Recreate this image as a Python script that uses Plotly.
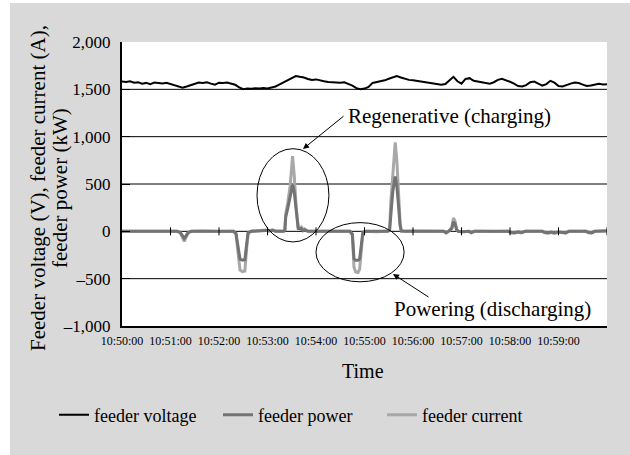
import plotly.graph_objects as go
import pandas as pd

# ---------------- data ----------------
tick_labels = ["10:50:00", "10:51:00", "10:52:00", "10:53:00", "10:54:00",
               "10:55:00", "10:56:00", "10:57:00", "10:58:00", "10:59:00"]
y_ticks = [-1000, -500, 0, 500, 1000, 1500, 2000]
y_tick_text = ["\u20131,000", "\u2013500", "0", "500", "1,000", "1,500", "2,000"]

# feeder voltage, one sample every 5 s from 10:50:00
voltage_step_s = 5
feeder_voltage = [
    1582, 1578, 1585, 1570, 1575, 1560, 1568, 1555, 1572, 1566, 1562, 1570,
    1556, 1540, 1528, 1518, 1530, 1545, 1560, 1572, 1568, 1575, 1560, 1550,
    1570, 1566, 1572, 1560, 1548, 1520, 1502, 1508, 1505, 1512, 1508, 1515,
    1510, 1520, 1530, 1552, 1575, 1600, 1625, 1640, 1632, 1625, 1610, 1600,
    1605, 1592, 1585, 1578, 1575, 1578, 1570, 1575, 1560, 1540, 1512, 1500,
    1508, 1525, 1568, 1575, 1580, 1595, 1612, 1630, 1640, 1625, 1610, 1600,
    1595, 1588, 1582, 1578, 1570, 1560, 1552, 1548, 1556, 1590, 1632, 1585,
    1560, 1610, 1618, 1590, 1582, 1576, 1562, 1560, 1575, 1600, 1612, 1600,
    1580, 1560, 1535, 1530, 1545, 1575, 1582, 1560, 1540, 1555, 1590, 1570,
    1535, 1530, 1548, 1560, 1572, 1566, 1550, 1535, 1540, 1552, 1558, 1550,
    1555,
]

# feeder current / power samples (seconds after 10:50:00)
pulse_time_s = [
    0, 20, 40, 55, 68, 72, 75, 77, 79, 82, 86, 100, 120, 138, 141, 144, 146,
    149, 152, 154, 156, 160, 170, 178, 182, 186, 190, 196, 200, 201.5, 202.5,
    205, 208, 211, 213, 215.5, 218, 220, 222, 224, 226, 230, 250, 270, 282,
    285, 287, 289, 292, 294, 296, 298, 302, 315, 328, 331, 332.5, 335, 338,
    340, 342, 344, 345.5, 350, 360, 380, 398, 401, 404, 408, 410, 412, 414,
    416, 420, 429, 432, 436, 445, 460, 478, 481, 485, 490, 494, 499, 510, 520,
    523, 527, 531, 535, 540, 545, 549, 553, 565, 574, 577, 581, 585, 600,
]
feeder_current = [
    0, 2, -3, 0, 0, -15, -60, -105, -70, -15, 0, 3, -2, 0, -30, -280, -410,
    -425, -420, -200, -20, 0, 5, 15, 5, 15, 3, 0, 0, 20, 180,
    300, 480, 795, 600, 250, 40, 30, 45, 10, 25, 0, 2, -3, 0,
    -40, -380, -430, -435, -400, -150, -15, 0, -5, 0, 10, 300, 620, 940,
    750, 420, 100, 5, 0, 3, -2, 0, -18, 0, 40, 140, 110, 20,
    0, -8, 0, -18, 0, 2, -3, 0, -15, -20, -10, -18, 0, 2, 0,
    -15, -20, -12, -22, -10, -18, -20, 0, 0, 0, -16, -20, 0, 5,
]
feeder_power = [
    0, 0, -2, 0, 0, -10, -45, -75, -50, -10, 0, 2, 0, 0, -20, -200, -295,
    -305, -300, -150, -15, 0, 3, 10, 3, 12, 2, 0, 0, 15, 150,
    240, 350, 490, 420, 180, 30, 25, 30, 8, 15, 0, 0, -2, 0,
    -30, -290, -305, -305, -290, -110, -10, 0, -3, 0, 8, 200, 420, 580,
    480, 280, 60, 3, 0, 2, 0, 0, -12, 0, 30, 100, 80, 15,
    0, -5, 0, -12, 0, 0, -2, 0, -10, -15, -5, -12, 0, 0, 0,
    -10, -14, -8, -15, -6, -12, -14, 0, 0, 0, -10, -14, 0, 3,
]

# ---------------- helpers ----------------
base = pd.Timestamp("2024-01-01 10:50:00")
end = base + pd.Timedelta(minutes=10)
t_volt = [base + pd.Timedelta(seconds=i * voltage_step_s) for i in range(len(feeder_voltage))]
t_pulse = [base + pd.Timedelta(seconds=s) for s in pulse_time_s]
tick_vals = [pd.Timestamp("2024-01-01 " + s) for s in tick_labels]

FONT = "Liberation Serif"
W, H = 630, 455
ML, MR, MT, MB = 122, 23, 42, 129
PW, PH = W - ML - MR, H - MT - MB


def px_x(px):
    return (px - ML) / PW


def px_y(py):
    return (H - MB - py) / PH


def t_at(sec):
    return base + pd.Timedelta(seconds=sec)


fig = go.Figure()

# draw order: current, power, voltage (legend order by rank)
fig.add_trace(go.Scatter(x=t_pulse, y=feeder_current, mode="lines", name="feeder current",
                         line=dict(color="#a8a8a8", width=3), legendrank=3))
fig.add_trace(go.Scatter(x=t_pulse, y=feeder_power, mode="lines", name="feeder power",
                         line=dict(color="#737373", width=3), legendrank=2))
fig.add_trace(go.Scatter(x=t_volt, y=feeder_voltage, mode="lines", name="feeder voltage",
                         line=dict(color="#000000", width=2), legendrank=1))

shapes = []
# white strips at left and top edge of the picture
shapes.append(dict(type="rect", xref="paper", yref="paper", x0=px_x(0), x1=px_x(10),
                   y0=px_y(H), y1=px_y(0), fillcolor="white", line_width=0, layer="below"))
shapes.append(dict(type="rect", xref="paper", yref="paper", x0=px_x(0), x1=px_x(W),
                   y0=px_y(3), y1=px_y(0), fillcolor="white", line_width=0, layer="below"))
# horizontal gridlines (inner ticks only)
for v in y_ticks[1:-1]:
    shapes.append(dict(type="line", xref="paper", yref="y", x0=0, x1=1, y0=v, y1=v,
                       line=dict(color="black", width=1), layer="below"))
# small tick marks on zero line
for tv in tick_vals[1:] + [end]:
    shapes.append(dict(type="line", xref="x", yref="y", x0=tv, x1=tv,
                       ysizemode="pixel", yanchor=0, y0=-4, y1=4,
                       line=dict(color="black", width=1)))
# ellipses
shapes.append(dict(type="circle", xref="x", yref="y", x0=t_at(167), x1=t_at(256),
                   y0=-112, y1=873, line=dict(color="black", width=1)))
shapes.append(dict(type="circle", xref="x", yref="y", x0=t_at(240), x1=t_at(349),
                   y0=-533, y1=92, line=dict(color="black", width=1)))

annotations = [
    dict(text="Feeder voltage (V), feeder current (A),", xref="paper", yref="paper",
         x=px_x(38), y=px_y(188), textangle=-90, showarrow=False,
         xanchor="center", yanchor="middle", font=dict(family=FONT, size=21, color="black")),
    dict(text="feeder power (kW)", xref="paper", yref="paper",
         x=px_x(60), y=px_y(188), textangle=-90, showarrow=False,
         xanchor="center", yanchor="middle", font=dict(family=FONT, size=21, color="black")),
    dict(text="Time", xref="paper", yref="paper", x=px_x(363), y=px_y(371),
         showarrow=False, xanchor="center", yanchor="middle",
         font=dict(family=FONT, size=20, color="black")),
    dict(text="Regenerative (charging)", xref="paper", yref="paper", x=px_x(346), y=px_y(116),
         showarrow=False, xanchor="left", yanchor="middle",
         font=dict(family=FONT, size=21, color="black")),
    dict(text="Powering (discharging)", xref="paper", yref="paper", x=px_x(392), y=px_y(309),
         showarrow=False, xanchor="left", yanchor="middle",
         font=dict(family=FONT, size=21, color="black")),
    dict(text="", xref="paper", yref="paper", x=px_x(303), y=px_y(149), ax=42, ay=-34,
         showarrow=True, arrowhead=2, arrowsize=1.2, arrowwidth=1, arrowcolor="black"),
    dict(text="", xref="paper", yref="paper", x=px_x(393), y=px_y(274), ax=37, ay=24,
         showarrow=True, arrowhead=2, arrowsize=1.2, arrowwidth=1, arrowcolor="black"),
]

fig.update_layout(
    width=W, height=H,
    margin=dict(l=ML, r=MR, t=MT, b=MB, pad=0),
    paper_bgcolor="#d9d9d9", plot_bgcolor="white",
    font=dict(family=FONT, color="black"),
    showlegend=True,
    legend=dict(orientation="h", x=px_x(54), y=px_y(415), xanchor="left", yanchor="middle",
                font=dict(family=FONT, size=18, color="black"), bgcolor="rgba(0,0,0,0)",
                entrywidth=119, itemclick=False),
    shapes=shapes, annotations=annotations,
    xaxis=dict(type="date", range=[base, end], tickvals=tick_vals, ticktext=tick_labels,
               showgrid=False, zeroline=False, showline=True, linecolor="black", linewidth=2,
               ticks="", ticklabelstandoff=3, tickfont=dict(family=FONT, size=12, color="black"),
               fixedrange=True),
    yaxis=dict(range=[-1000, 2000], tickvals=y_ticks, ticktext=y_tick_text,
               showgrid=False, zeroline=False, showline=True, linecolor="black", linewidth=2,
               ticks="inside", ticklen=8, tickwidth=1, tickcolor="black",
               ticklabelstandoff=6, tickfont=dict(family=FONT, size=17, color="black"),
               fixedrange=True),
)

fig.write_html("out.html", config={"displayModeBar": False},
               post_script="document.body.style.margin='0';")
